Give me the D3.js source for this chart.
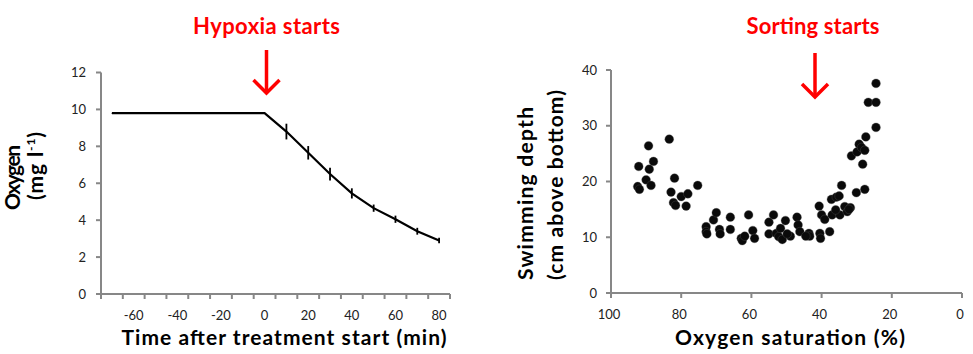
<!DOCTYPE html>
<html><head><meta charset="utf-8">
<script src="https://cdn.jsdelivr.net/npm/d3@7"></script>
<style>
body{margin:0;background:#fff;}
svg{display:block;font-family:Lato, "Liberation Sans", sans-serif;}
</style></head>
<body><svg id="c" width="973" height="354"></svg>
<script>
// Left panel: oxygen over time
const times = [-70,-60,-50,-40,-30,-20,-10,0,10,20,30,40,50,60,70,80];
const oxygen = [9.8,9.8,9.8,9.8,9.8,9.8,9.8,9.8,8.8,7.65,6.5,5.45,4.65,4.05,3.4,2.9];
const oxygenErr = [0.05,0.05,0.05,0.05,0.05,0.05,0.05,0.05,0.48,0.42,0.4,0.33,0.25,0.25,0.24,0.2];
const timeTickLabels = [-60,-40,-20,0,20,40,60,80];
const oxygenTicks = [0,2,4,6,8,10,12];

// Right panel: swimming depth vs oxygen saturation
const saturation = [92.1,89.3,87.9,89.1,92.4,91.9,90.0,88.6,83.4,81.9,82.9,82.2,81.6,80.0,78.1,78.6,75.3,
  72.9,72.9,72.7,70.8,70.0,69.1,68.9,66.0,66.0,62.9,62.6,61.9,60.8,59.6,59.1,55.0,55.0,53.7,52.9,52.2,51.2,
  50.3,48.9,47.0,46.7,46.2,43.6,43.4,40.7,40.0,40.5,40.3,39.1,37.7,37.2,37.0,35.8,35.0,34.3,34.8,33.4,32.7,
  31.8,31.5,30.1,29.9,29.3,28.6,27.7,28.3,27.7,27.4,26.7,24.5,24.5,24.5,51.7,49.8,44.5,32.2,36.0];
const depth = [22.7,26.4,23.6,22.2,19.1,18.6,20.3,19.3,27.6,20.6,18.1,16.2,15.7,17.3,17.8,15.6,19.3,
  11.9,11.0,10.6,13.1,14.4,11.4,10.6,13.6,11.4,9.8,9.4,10.2,14.0,11.2,9.8,12.7,10.6,14.0,10.7,10.1,9.6,
  13.0,10.2,13.6,12.2,11.0,10.7,10.2,15.6,14.0,10.7,9.8,13.2,11.0,16.8,14.0,17.2,17.4,19.3,14.0,15.5,14.6,
  15.3,24.6,18.0,25.3,26.7,26.1,25.6,23.1,18.6,28.0,34.2,34.2,37.6,29.7,11.6,10.6,10.2,15.0,14.9];
const satTicks = [100,80,60,40,20,0];
const depthTicks = [0,10,20,30,40];

const svg = d3.select("#c");
const axisColor = "#878787";
const FS = 21;

function title(g, txt, x, y, len, rot, opts={}) {
  const t = g.append("text")
    .attr("transform", rot ? `translate(${x},${y}) rotate(-90)` : `translate(${x},${y})`)
    .attr("text-anchor","middle").attr("font-size",opts.size||FS).attr("font-weight","bold")
    .attr("fill",opts.fill||"#000").attr("textLength",len).attr("lengthAdjust","spacing");
  t.text(txt);
  return t;
}

// ---------- LEFT ----------
const xL = d3.scaleBand().domain(times).range([101, 450]);
const yL = d3.scaleLinear().domain([0,12]).range([294, 72.5]);
const gL = svg.append("g");

gL.append("line").attr("x1",101).attr("x2",101).attr("y1",yL(12)).attr("y2",yL(0))
  .attr("stroke",axisColor).attr("stroke-width",2);
oxygenTicks.forEach(t=>{
  gL.append("line").attr("x1",96).attr("x2",101).attr("y1",yL(t)).attr("y2",yL(t))
    .attr("stroke",axisColor).attr("stroke-width",2);
  gL.append("text").attr("x",86).attr("y",yL(t)+4.5).attr("text-anchor","end")
    .attr("font-size",13).attr("fill","#222").text(t);
});
gL.append("line").attr("x1",100).attr("x2",450).attr("y1",294).attr("y2",294)
  .attr("stroke",axisColor).attr("stroke-width",2);
const bounds = times.map(t=>xL(t)).concat([xL(times[times.length-1])+xL.bandwidth()]);
bounds.forEach(b=>{
  gL.append("line").attr("x1",b).attr("x2",b).attr("y1",294).attr("y2",299)
    .attr("stroke",axisColor).attr("stroke-width",2);
});
timeTickLabels.forEach(t=>{
  gL.append("text").attr("x",xL(t)+xL.bandwidth()/2).attr("y",320).attr("text-anchor","middle")
    .attr("font-size",13).attr("fill","#222").text(t);
});
const cx = t=>xL(t)+xL.bandwidth()/2;
gL.append("path").datum(times.map((t,i)=>[t,oxygen[i]]))
  .attr("d", d3.line().x(d=>cx(d[0])).y(d=>yL(d[1])))
  .attr("fill","none").attr("stroke","#000").attr("stroke-width",2.2);
times.forEach((t,i)=>{
  gL.append("line").attr("x1",cx(t)).attr("x2",cx(t))
    .attr("y1",yL(oxygen[i]-oxygenErr[i])-1).attr("y2",yL(oxygen[i]+oxygenErr[i])+1)
    .attr("stroke","#000").attr("stroke-width",1.8);
});
title(gL,"Time after treatment start (min)",284,345,325,false);
title(gL,"Oxygen",20,177.5,65,true);
const t2 = gL.append("text").attr("transform","translate(43,166) rotate(-90)").attr("text-anchor","middle")
  .attr("font-size",FS).attr("font-weight","bold").attr("textLength",68).attr("lengthAdjust","spacing");
t2.append("tspan").text("(mg l");
t2.append("tspan").attr("font-size",12).attr("dy",-8).text("-1");
t2.append("tspan").attr("dy",8).text(")");

title(gL,"Hypoxia starts",266.5,34,147,false,{fill:"#ff0000",size:22});
function arrow(g,x,y1,y2){
  g.append("line").attr("x1",x).attr("x2",x).attr("y1",y1).attr("y2",y2-1)
    .attr("stroke","#ff0000").attr("stroke-width",3.5);
  g.append("path").attr("d",`M${x-13},${y2-13}L${x},${y2}L${x+13},${y2-13}`)
    .attr("fill","none").attr("stroke","#ff0000").attr("stroke-width",3.5);
}
arrow(gL,266.5,50,93);

// ---------- RIGHT ----------
const xR = d3.scaleLinear().domain([100,0]).range([611, 962]);
const yR = d3.scaleLinear().domain([0,40]).range([293, 70]);
const gR = svg.append("g");
gR.append("line").attr("x1",611).attr("x2",611).attr("y1",yR(40)).attr("y2",yR(0))
  .attr("stroke",axisColor).attr("stroke-width",2);
depthTicks.forEach(t=>{
  gR.append("line").attr("x1",606).attr("x2",611).attr("y1",yR(t)).attr("y2",yR(t))
    .attr("stroke",axisColor).attr("stroke-width",2);
  gR.append("text").attr("x",597).attr("y",yR(t)+4.5).attr("text-anchor","end")
    .attr("font-size",13).attr("fill","#222").text(t);
});
gR.append("line").attr("x1",610).attr("x2",962).attr("y1",293).attr("y2",293)
  .attr("stroke",axisColor).attr("stroke-width",2);
satTicks.forEach(t=>{
  gR.append("line").attr("x1",xR(t)).attr("x2",xR(t)).attr("y1",293).attr("y2",298)
    .attr("stroke",axisColor).attr("stroke-width",2);
  gR.append("text").attr("x",xR(t)-2).attr("y",319).attr("text-anchor","middle")
    .attr("font-size",13).attr("fill","#222").text(t);
});
gR.selectAll("circle.pt").data(saturation.map((s,i)=>[s,depth[i]])).enter()
  .append("circle").attr("class","pt")
  .attr("cx",d=>xR(d[0])).attr("cy",d=>yR(d[1])).attr("r",4.4)
  .attr("fill","#0a0a0a").attr("stroke","#555").attr("stroke-opacity",0.35).attr("stroke-width",1);

title(gR,"Oxygen saturation (%)",790,345,230,false);
title(gR,"Swimming depth",533,193.5,173,true);
title(gR,"(cm above bottom)",563,185,190,true);

title(gR,"Sorting starts",813,34,133,false,{fill:"#ff0000",size:22});
arrow(gR,815,53,97);
</script></body></html>
